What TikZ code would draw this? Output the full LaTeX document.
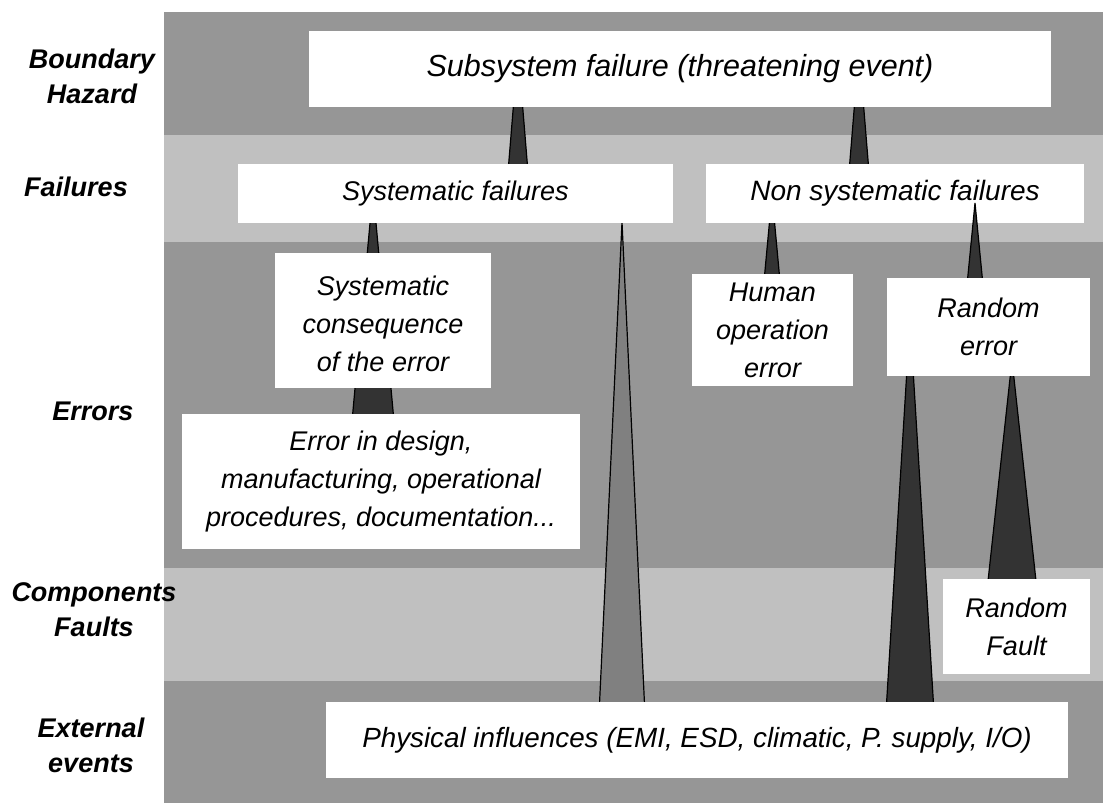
\documentclass[tikz,border=0pt]{standalone}
\usepackage{fontspec}
\setmainfont{Liberation Sans}
\usepackage{xcolor}
\definecolor{banddark}{gray}{0.588}
\definecolor{bandlight}{gray}{0.753}
\definecolor{spikedark}{gray}{0.2}
\definecolor{spikegray}{gray}{0.5}

\begin{document}
\begin{tikzpicture}[x=1pt,y=-1pt,
  box/.style={fill=white, inner sep=0, align=center, font=\fontsize{27}{38}\selectfont\itshape},
  layer/.style={align=center, font=\fontsize{27}{35}\selectfont\bfseries\itshape},
  spike/.style={draw=black, line width=1.2pt, line join=miter}]
\useasboundingbox (0,0) rectangle (1103,803);
% bands
\foreach \ya/\yb/\c in {12/135/banddark, 135/242/bandlight, 242/568/banddark, 568/681/bandlight, 681/803/banddark}
 \fill[\c] (164,\ya) rectangle (1103,\yb);
% layer names
\node[layer] (hazard) at (92,76) {Boundary\\Hazard};
\node[layer] (failures) at (76,187) {Failures};
\node[layer] (errors) at (93,411) {Errors};
\node[layer] (faults) at (94,610) {Components\\Faults};
\node[layer] (external) at (91,745) {External\\events};
% spikes behind the boxes
\foreach \x/\ya/\yb/\w/\c in {518/50/166/9.5/spikedark, 859/50/166/9.5/spikedark,
  373/190/416/20.5/spikedark, 772/195/276/7.5/spikedark, 622/222/704/22.5/spikegray,
  910/320/704/23.5/spikedark, 1012/360/581/24/spikedark}
 \draw[spike, fill=\c] (\x,\ya) -- (\x-\w,\yb) -- (\x+\w,\yb) -- cycle;
% boxes
\node[box, minimum width=742pt, minimum height=76pt, font=\fontsize{30.5}{38}\selectfont\itshape] (sub) at (680,69) {Subsystem failure (threatening event)};
\node[box, minimum width=435pt, minimum height=59pt] (sysfail) at (455.5,193.5) {Systematic failures};
\node[box, minimum width=378pt, minimum height=59pt, font=\fontsize{28}{38}\selectfont\itshape] (nonsys) at (895,193.5) {Non systematic failures};
\node[box, minimum width=216pt, minimum height=135pt] (conseq) at (383,320.5) {\rule{0pt}{26pt}Systematic\\consequence\\of the error};
\node[box, minimum width=398pt, minimum height=135pt] (design) at (381,481.5) {Error in design,\\manufacturing, operational\\procedures, documentation...};
\node[box, minimum width=161pt, minimum height=112pt] (human) at (772.5,330) {Human\\operation\\error};
\node[box, minimum width=147pt, minimum height=95pt] (randfault) at (1016.5,626.5) {Random\\Fault};
\node[box, minimum width=742pt, minimum height=76pt, font=\fontsize{27.8}{38}\selectfont\itshape] (phys) at (697,740) {Physical influences (EMI, ESD, climatic, P. supply, I/O)};
% spike over the failures box
\draw[spike, fill=spikedark] (975,203) -- (967,285) -- (983,285) -- cycle;
\node[box, minimum width=203pt, minimum height=98pt] (randerr) at (988.5,327) {Random\\error};
\end{tikzpicture}
\end{document}
